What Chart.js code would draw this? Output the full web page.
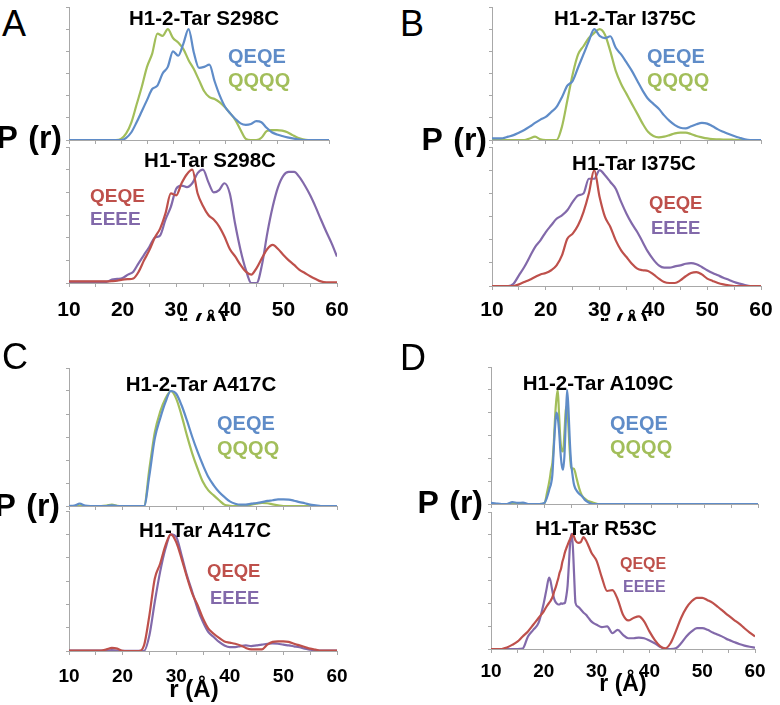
<!DOCTYPE html>
<html>
<head>
<meta charset="utf-8">
<script src="https://cdn.jsdelivr.net/npm/chart.js@4.4.0/dist/chart.umd.min.js"></script>
<style>
body { margin: 0; background: #fff; }
#fig { position: relative; width: 780px; height: 705px; overflow: hidden; font-family: "Liberation Sans", Arial, sans-serif; background: #fff; }
#fig canvas { position: absolute; }
.t { position: absolute; white-space: nowrap; line-height: 1; }
</style>
</head>
<body>
<div id="fig"></div>
<script>
// distance grid (Å), 1 Å steps
const r = [10,11,12,13,14,15,16,17,18,19,20,21,22,23,24,25,26,27,28,29,30,31,32,33,34,35,
  36,37,38,39,40,41,42,43,44,45,46,47,48,49,50,51,52,53,54,55,56,57,58,59,60];
// finer grid for panel D (sharp peaks)
const rD = [10,11,12,13,14,15,16,17,18,19,20,20.5,21,21.25,21.5,21.75,22,22.25,22.5,22.75,
  23,23.25,23.5,23.75,24,24.25,24.5,24.75,25,25.25,25.5,25.75,26,26.5,27,27.5,28,28.5,29,29.5,30,
  31,32,33,34,35,36,37,38,39,40,41,42,43,44,45,46,47,48,49,50,51,52,53,54,55,56,57,58,59,60];
const xTicks = [10, 20, 30, 40, 50, 60];

// A: S298C
const aTopQEQE = [0,0,0,0,0,0,0,0,0,0,0,0.1,0.35,0.8,1.3,1.8,2.3,2.45,3.0,3.3,4.0,3.8,4.35,5.0,3.95,3.25,
  3.3,3.4,2.65,2.0,1.5,1.2,0.95,0.75,0.68,0.72,0.85,0.8,0.55,0.35,0.25,0.18,0.12,0.07,0.03,0,0,0,0,0,0];
const aTopQQQQ = [0,0,0,0,0,0,0,0,0,0,0.05,0.3,0.8,1.6,2.4,3.3,3.9,4.8,4.7,5.0,4.6,4.4,4.1,3.6,3.2,2.7,
  2.2,1.93,1.85,1.7,1.48,1.2,0.9,0.45,0.05,0,0,0.1,0.4,0.45,0.45,0.42,0.35,0.22,0.1,0.03,0,0,0,0,0];
const aBotQEQE = [0.07,0.07,0.07,0.07,0.07,0.07,0.07,0.07,0.08,0.1,0.15,0.17,0.2,0.5,1.0,1.45,2.0,2.4,3.07,3.95,
  3.87,4.4,4.8,5.0,3.95,3.4,3.0,2.8,2.5,2.05,1.5,1.17,0.8,0.5,0.37,0.66,1.1,1.5,1.68,1.5,1.24,1.0,0.8,
  0.58,0.44,0.3,0.18,0.07,0.03,0.03,0.03];
const aBotEEEE = [0.05,0.05,0.05,0.05,0.05,0.05,0.05,0.05,0.15,0.18,0.22,0.37,0.5,0.88,1.24,1.6,2.0,2.1,2.8,3.36,
  4.16,4.3,4.23,4.4,4.85,5.0,4.45,4.0,4.1,4.4,3.95,2.6,1.46,0.58,0,0,0.8,2.2,3.36,4.23,4.74,4.9,4.9,
  4.67,4.3,3.87,3.36,2.8,2.26,1.75,1.17];

// B: I375C
const bTopQEQE = [0.07,0.07,0.08,0.15,0.22,0.33,0.45,0.6,0.77,0.92,1.04,1.26,1.49,1.93,2.45,2.67,3.27,3.86,4.46,5.0,
  4.7,4.6,4.68,4.16,3.86,3.5,3.12,2.67,2.23,1.86,1.63,1.41,1.11,0.86,0.67,0.55,0.52,0.62,0.71,0.77,0.74,
  0.62,0.48,0.37,0.27,0.18,0.1,0.03,0,0,0];
const bTopQQQQ = [0,0,0,0,0,0,0,0.07,0.15,0.03,0,0,0,0.6,1.78,2.97,3.86,4.23,4.6,4.83,5.0,4.75,4.0,3.12,2.53,
  2.08,1.63,1.19,0.74,0.37,0.18,0.12,0.15,0.22,0.3,0.33,0.33,0.27,0.18,0.12,0.07,0.04,0.03,0.02,0.02,0.01,
  0,0,0,0,0];
const bBotQEQE = [0,0,0,0,0,0.07,0.17,0.27,0.39,0.5,0.56,0.68,0.89,1.32,2.04,2.26,2.62,3.19,3.99,5.0,3.84,2.98,
  2.55,1.97,1.54,1.25,0.96,0.75,0.68,0.65,0.5,0.32,0.17,0.13,0.13,0.24,0.42,0.56,0.6,0.5,0.32,0.22,0.13,
  0.07,0.03,0,0,0,0,0,0];
const bBotEEEE = [0,0,0,0,0.1,0.46,0.82,1.25,1.68,1.97,2.33,2.62,2.9,3.05,3.27,3.63,3.91,3.99,4.63,4.63,5.0,4.78,
  4.49,4.2,3.63,3.12,2.69,2.33,1.9,1.47,1.14,0.89,0.79,0.79,0.85,0.89,0.96,0.99,0.94,0.82,0.68,0.56,0.46,
  0.36,0.27,0.17,0.1,0.04,0,0,0];

// C: A417C
const cTopQEQE = [0,0.02,0.1,0.02,0,0,0,0,0.03,0,0,0,0,0,0,1.33,2.93,3.8,4.52,5.0,4.88,4.38,3.72,3.0,2.35,1.77,
  1.26,0.9,0.61,0.39,0.2,0.1,0.06,0.06,0.1,0.13,0.17,0.22,0.25,0.29,0.29,0.28,0.23,0.17,0.12,0.06,0.03,
  0,0,0,0];
const cTopQQQQ = [0,0,0,0,0,0,0,0.02,0.06,0.01,0,0,0,0,0,1.62,3.2,4.09,4.67,5.0,4.67,3.94,3.07,2.28,1.62,1.04,
  0.68,0.46,0.25,0.06,0.01,0,0,0,0.06,0.1,0.13,0.12,0.07,0.03,0,0,0,0,0,0,0,0,0,0,0];
const cBotQEQE = [0.02,0.02,0.02,0.02,0.02,0.02,0.02,0.07,0.13,0.1,0.01,0,0,0,0.24,1.53,3.1,3.74,4.53,5.0,4.67,
  3.96,3.17,2.46,1.96,1.39,0.96,0.74,0.56,0.41,0.36,0.31,0.24,0.13,0.07,0.07,0.07,0.27,0.39,0.41,0.41,
  0.39,0.31,0.24,0.17,0.1,0.06,0.02,0.02,0.02,0.02];
const cBotEEEE = [0.02,0.02,0.02,0.02,0.02,0.02,0.02,0.02,0.04,0.01,0.01,0.01,0.01,0.01,0.01,0.67,2.1,3.39,4.39,
  5.0,4.89,4.1,3.24,2.53,1.81,1.24,0.81,0.6,0.39,0.24,0.17,0.17,0.21,0.24,0.21,0.24,0.27,0.31,0.33,0.31,
  0.27,0.24,0.2,0.16,0.1,0.06,0.02,0.02,0.02,0.02,0.02];

// D: A109C (top) and R53C (bottom), on rD
const dTopQEQE = [0.05,0.02,0,0,0.08,0.05,0.06,0,0,0,0.05,0.3,
  0.7,0.9,1.3,2.4,3.4,4.0,3.8,3.2,2.3,1.7,1.5,2.1,3.6,5.0,4.2,2.8,1.8,1.3,0.9,0.7,0.6,
  0.45,0.35,0.2,0.1,0.04,0,0,0,
  0,0,0,0,0,0,0,0,0,0,0,0,0,0,0,0,0,0,0,0,0,0,0,0,0,0,0,0,0,0];
const dTopQQQQ = [0,0,0,0,0,0,0,0,0,0,0.02,0.5,
  1.1,1.5,1.8,2.6,3.8,4.6,5.0,3.9,2.8,2.35,2.3,3.1,4.1,4.3,3.4,2.3,1.6,1.55,1.55,1.4,1.15,
  0.7,0.38,0.25,0.16,0.11,0.07,0.03,0,
  0,0,0,0,0,0,0,0,0,0,0,0,0,0,0,0,0,0,0,0,0,0,0,0,0,0,0,0,0,0];
const dBotQEQE = [0,0,0,0.07,0.18,0.32,0.55,0.77,1.06,1.36,1.65,1.85,
  2.02,2.1,2.2,2.35,2.54,2.7,2.9,3.1,3.35,3.5,3.8,4.0,4.23,4.4,4.55,4.7,4.82,4.95,5.04,4.9,4.75,
  4.65,4.68,4.9,4.75,4.5,4.23,4.05,3.86,
  3.13,2.54,2.58,2.17,1.5,1.25,1.36,1.43,1.21,0.77,0.4,0.13,0.03,0.25,0.77,1.36,1.8,2.09,2.24,2.24,
  2.14,2.02,1.84,1.65,1.46,1.28,1.11,0.91,0.72,0.55];
const dBotEEEE = [0,0,0,0,0,0,0.02,0.55,0.84,1.14,2.02,2.6,
  3.13,3.0,2.7,2.4,2.17,2.05,1.98,1.95,1.95,2.0,1.98,2.0,2.02,2.3,2.76,3.7,4.68,5.04,4.5,3.2,2.02,
  1.85,1.73,1.6,1.5,1.35,1.21,1.12,1.06,
  0.96,0.99,0.69,0.84,0.62,0.47,0.47,0.5,0.47,0.37,0.25,0.1,0,0,0.03,0.25,0.55,0.77,0.91,0.91,
  0.84,0.72,0.62,0.52,0.4,0.31,0.22,0.15,0.1,0.06];

const blue = '#5f8cc8', green = '#a2be5a', red = '#be504b', purple = '#8269aa';
const axisColor = '#a8a8a8';
const fig = document.getElementById('fig');

function addText(str, x, base, size, opts = {}) {
  const d = document.createElement('div');
  d.className = 't';
  d.textContent = str;
  d.style.fontSize = size + 'px';
  d.style.fontWeight = opts.weight || 'bold';
  d.style.color = opts.color || '#000';
  d.style.top = (base - 0.8465 * size) + 'px';
  if (opts.wordSpacing) d.style.wordSpacing = opts.wordSpacing + 'px';
  if (opts.align === 'center') {
    d.style.left = x + 'px';
    d.style.transform = 'translateX(-50%)';
  } else if (opts.align === 'right') {
    d.style.right = (780 - x) + 'px';
  } else {
    d.style.left = x + 'px';
  }
  fig.appendChild(d);
}

// area = [left, right, top, bottom] of the plot box in page pixels
function addPlot(p) {
  const [l, rt, t, b] = p.area;
  const yw = 20, padR = 22, padT = 3;
  const xh = p.labels ? 52 : 8;
  const c = document.createElement('canvas');
  c.width = (rt - l) + yw + padR;
  c.height = (b - t) + padT + xh;
  c.style.left = (l - yw) + 'px';
  c.style.top = (t - padT) + 'px';
  fig.appendChild(c);

  new Chart(c, {
    type: 'line',
    data: {
      datasets: p.series.map(([vals, color]) => ({
        data: vals.map((v, i) => ({ x: p.r[i], y: v })),
        borderColor: color,
        borderWidth: 2.2,
        pointRadius: 0,
        fill: false,
        cubicInterpolationMode: 'monotone'
      }))
    },
    options: {
      responsive: false,
      animation: false,
      events: [],
      layout: { padding: { left: 0, right: padR, top: padT, bottom: 0 } },
      plugins: { legend: { display: false }, tooltip: { enabled: false } },
      scales: {
        x: {
          type: 'linear', min: 10, max: 60,
          ticks: {
            stepSize: 5, display: p.labels, autoSkip: false, maxRotation: 0,
            callback: v => xTicks.includes(v) ? String(v) : '',
            color: '#000',
            font: { family: '"Liberation Sans", Arial, sans-serif', size: p.tickSize || 20, weight: 'bold' },
            padding: p.tickPad || 8
          },
          grid: { drawOnChartArea: false, tickLength: 4, color: axisColor },
          border: { color: axisColor, width: 1 },
          afterFit: s => { s.height = xh; s.paddingLeft = 0; s.paddingRight = 0; }
        },
        y: {
          min: 0, max: 6,
          ticks: { stepSize: 1, display: false },
          grid: { drawOnChartArea: false, tickLength: 3, color: axisColor },
          border: { color: axisColor, width: 1 },
          afterFit: s => { s.width = yw; s.paddingTop = 0; s.paddingBottom = 0; }
        }
      }
    }
  });
}

// ---- top row: A and B ----
addPlot({ area: [69, 329, 7, 140], r: r, series: [[aTopQEQE, blue], [aTopQQQQ, green]], labels: false });
addPlot({ area: [69, 337, 147, 283], r: r, series: [[aBotQEQE, red], [aBotEEEE, purple]], labels: true, tickSize: 21, tickPad: 11 });
addPlot({ area: [492, 761, 7, 140], r: r, series: [[bTopQEQE, blue], [bTopQQQQ, green]], labels: false });
addPlot({ area: [492, 761, 147, 286], r: r, series: [[bBotQEQE, red], [bBotEEEE, purple]], labels: true, tickSize: 21, tickPad: 8 });

addText('r (Å)', 203, 331, 24, { align: 'center' });
addText('r (Å)', 624, 331, 24, { align: 'center' });

addText('A', 2, 36, 36, { weight: 'normal' });
addText('B', 400, 36, 36, { weight: 'normal' });
addText('P (r)', 62, 148, 32, { align: 'right', wordSpacing: 2 });
addText('P (r)', 487, 150, 32, { align: 'right', wordSpacing: 2 });

addText('H1-2-Tar S298C', 204, 25, 20.5, { align: 'center' });
addText('H1-Tar S298C', 210, 167, 20.5, { align: 'center' });
addText('H1-2-Tar I375C', 625, 25, 20.5, { align: 'center' });
addText('H1-Tar I375C', 634, 170, 20.5, { align: 'center' });

addText('QEQE', 228, 63, 20, { color: blue });
addText('QQQQ', 228, 87, 20, { color: green });
addText('QEQE', 90, 202, 19, { color: red });
addText('EEEE', 90, 225, 19, { color: purple });
addText('QEQE', 647, 63, 20, { color: blue });
addText('QQQQ', 647, 87, 20, { color: green });
addText('QEQE', 649, 210, 18.5, { color: red });
addText('EEEE', 651, 235, 18.5, { color: purple });

// lower row sits over the clipped axis titles of the upper row
const cover = document.createElement('div');
cover.style.cssText = 'position:absolute;left:0;top:321px;width:780px;height:384px;background:#fff;';
fig.appendChild(cover);

// ---- bottom row: C and D ----
addPlot({ area: [69, 337, 368, 506], r: r, series: [[cTopQEQE, blue], [cTopQQQQ, green]], labels: false });
addPlot({ area: [69, 337, 511, 651], r: r, series: [[cBotQEQE, red], [cBotEEEE, purple]], labels: true, tickSize: 19, tickPad: 10 });
addPlot({ area: [491, 758, 367, 504], r: rD, series: [[dTopQEQE, blue], [dTopQQQQ, green]], labels: false });
addPlot({ area: [491, 755, 512, 649], r: rD, series: [[dBotQEQE, red], [dBotEEEE, purple]], labels: true, tickSize: 19, tickPad: 7 });

addText('r (Å)', 194, 697, 24, { align: 'center' });
addText('r (Å)', 623, 691, 23, { align: 'center' });

addText('C', 2, 369, 36, { weight: 'normal' });
addText('D', 400, 370, 36, { weight: 'normal' });
addText('P (r)', 60, 516, 32, { align: 'right', wordSpacing: 2 });
addText('P (r)', 483, 513, 32, { align: 'right', wordSpacing: 2 });

addText('H1-2-Tar A417C', 201, 391, 20.5, { align: 'center' });
addText('H1-Tar A417C', 205, 537, 20.5, { align: 'center' });
addText('H1-2-Tar A109C', 598, 390, 20.5, { align: 'center' });
addText('H1-Tar R53C', 596, 535, 20.5, { align: 'center' });

addText('QEQE', 217, 430, 20, { color: blue });
addText('QQQQ', 217, 455, 20, { color: green });
addText('QEQE', 207, 578, 18.5, { color: red });
addText('EEEE', 210, 605, 18.5, { color: purple });
addText('QEQE', 610, 430, 20, { color: blue });
addText('QQQQ', 610, 454, 20, { color: green });
addText('QEQE', 620, 570, 16, { color: red });
addText('EEEE', 623, 593, 16, { color: purple });
</script>
</body>
</html>
